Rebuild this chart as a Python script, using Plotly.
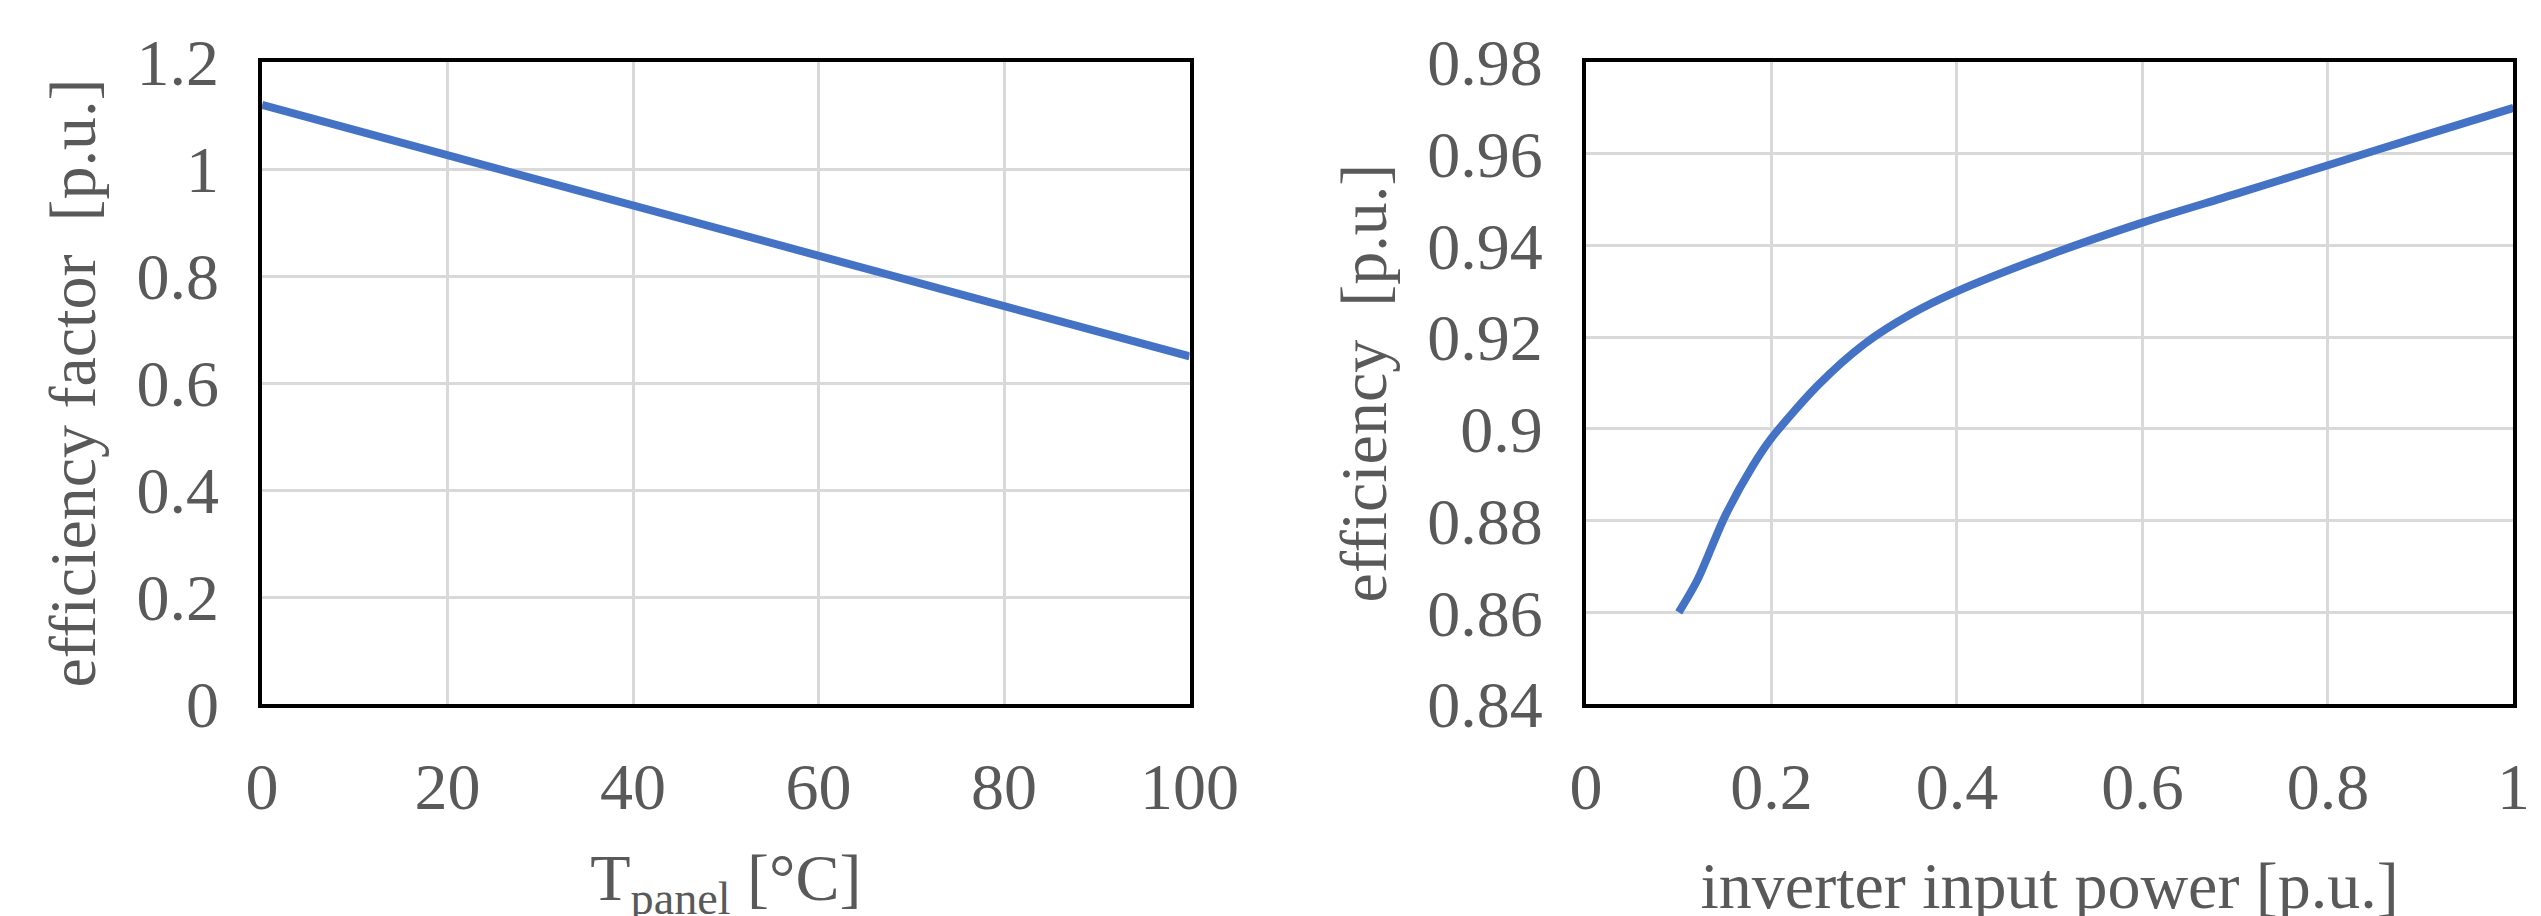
import plotly.graph_objects as go
from plotly.subplots import make_subplots

temp_c = [0, 100]
eff_factor = [1.12, 0.65]

power_pu = [0.1, 0.12, 0.15, 0.18, 0.2, 0.25, 0.3, 0.35, 0.4, 0.5, 0.6, 0.7, 0.8, 0.9, 1.0]
efficiency = [0.86, 0.867, 0.881, 0.892, 0.898, 0.9095, 0.9185, 0.925, 0.9300, 0.9380, 0.9450, 0.9512, 0.9575, 0.9638, 0.970]

blue = "#4472C4"
grey = "#595959"
font = "Liberation Serif"

fig = make_subplots(rows=1, cols=2)
fig.add_trace(go.Scatter(x=temp_c, y=eff_factor, mode="lines",
                         line=dict(color=blue, width=8), showlegend=False), 1, 1)
fig.add_trace(go.Scatter(x=power_pu, y=efficiency, mode="lines",
                         line=dict(color=blue, width=8, shape="spline", smoothing=0.8),
                         showlegend=False), 1, 2)

ax = dict(showgrid=True, gridcolor="#d9d9d9", gridwidth=3, showline=True, linecolor="black",
          linewidth=4, mirror=True, zeroline=False, ticks="", ticklen=0, automargin=False,
          tickfont=dict(family=font, size=66, color=grey),
          title_font=dict(family=font, size=66, color=grey))
xax = dict(ax, ticklabelstandoff=22)
yax = dict(ax, ticklabelstandoff=26)

fig.update_layout(
    width=2541, height=916, margin=dict(l=0, r=0, t=0, b=0),
    paper_bgcolor="white", plot_bgcolor="white",
    xaxis=dict(xax, domain=[0.100, 0.465], range=[0, 100], tickvals=[0, 20, 40, 60, 80, 100],
               title=dict(text="T<sub>panel</sub> [°C]", standoff=40)),
    yaxis=dict(yax, domain=[0.240, 0.941], range=[0, 1.2], tickvals=[0, 0.2, 0.4, 0.6, 0.8, 1, 1.2],
               ticktext=["0", "0.2", "0.4", "0.6", "0.8", "1", "1.2"],
               title=dict(text="efficiency factor  [p.u.]", standoff=20)),
    xaxis2=dict(xax, domain=[0.621, 0.986], range=[0, 1], tickvals=[0, 0.2, 0.4, 0.6, 0.8, 1],
                ticktext=["0", "0.2", "0.4", "0.6", "0.8", "1"],
                title=dict(text="inverter input power [p.u.]", standoff=40)),
    yaxis2=dict(yax, domain=[0.240, 0.941], range=[0.84, 0.98],
                tickvals=[0.84, 0.86, 0.88, 0.9, 0.92, 0.94, 0.96, 0.98],
                ticktext=["0.84", "0.86", "0.88", "0.9", "0.92", "0.94", "0.96", "0.98"],
                title=dict(text="efficiency  [p.u.]", standoff=20)),
)
fig.write_html("out.html")
